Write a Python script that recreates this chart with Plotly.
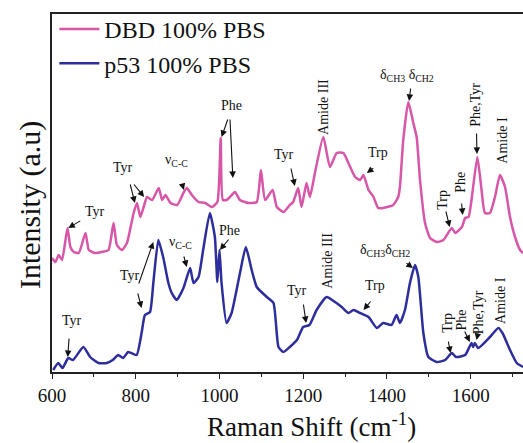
import plotly.graph_objects as go

# ---- data (Raman shift in cm^-1, intensity in arbitrary units) ----
dbd_shift = [600, 608, 616, 624, 637, 644, 652, 664, 680, 688, 703, 719, 735, 747, 755, 767, 779,
             795, 803, 811, 819, 827, 839, 855, 863, 871, 883, 899, 915, 922, 934, 950, 966, 982,
             995, 1003, 1008, 1017, 1025, 1037, 1049, 1069, 1089, 1099, 1109, 1127, 1137, 1153,
             1168, 1176, 1188, 1196, 1208, 1216, 1228, 1248, 1264, 1280, 1296, 1308, 1324, 1336,
             1344, 1356, 1368, 1379, 1391, 1415, 1427, 1431, 1439, 1451, 1463, 1471, 1479, 1491,
             1503, 1519, 1535, 1555, 1563, 1579, 1587, 1595, 1602, 1616, 1626, 1634, 1646, 1658,
             1670, 1682, 1694, 1706, 1718, 1725]
dbd_int = [114, 110, 117, 112, 144, 125, 120, 119, 139, 122, 119, 120, 122, 149, 127, 122, 129,
           159, 169, 155, 165, 175, 172, 184, 172, 177, 169, 167, 180, 184, 177, 170, 169, 165,
           170, 234, 172, 172, 175, 180, 172, 169, 170, 202, 172, 182, 165, 160,
           167, 170, 184, 165, 189, 175, 199, 235, 205, 219, 219, 209, 195, 192,
           197, 182, 175, 164, 164, 167, 175, 185, 232, 270, 249, 235, 192, 149,
           134, 130, 132, 144, 139, 145, 154, 155, 172, 215, 182, 159, 159, 175,
           197, 185, 155, 135, 122, 119]

p53_shift = [603, 615, 625, 639, 650, 675, 691, 711, 731, 745, 758, 770, 782, 802, 814, 822, 834,
             842, 854, 866, 878, 886, 898, 914, 930, 938, 950, 961, 977, 989, 995, 1000, 1005,
             1017, 1029, 1049, 1063, 1077, 1089, 1113, 1129, 1141, 1153, 1168, 1185, 1200, 1215,
             1232, 1256, 1276, 1292, 1308, 1320, 1336, 1356, 1376, 1391, 1411, 1423, 1431, 1443,
             1455, 1467, 1475, 1487, 1499, 1519, 1539, 1555, 1565, 1587, 1602, 1606, 1610, 1618,
             1646, 1666, 1676, 1694, 1710, 1725]
p53_int = [2, 9, 4, 14, 12, 25, 15, 9, 9, 12, 17, 14, 20, 17, 39, 57, 60,
           89, 132, 114, 89, 79, 72, 84, 104, 89, 95, 122, 159, 135, 90, 122, 89,
           49, 59, 99, 125, 102, 85, 75, 69, 25, 20, 25, 32, 45, 47,
           62, 75, 70, 65, 59, 62, 59, 55, 44, 49, 47, 57, 49, 62,
           89, 107, 95, 39, 15, 10, 12, 19, 15, 17, 29, 25, 29, 24,
           35, 44, 39, 22, 9, 5]

series_names = ["DBD 100% PBS", "p53 100% PBS"]
x_ticks = [600, 800, 1000, 1200, 1400, 1600]

# ---- peak labels: (text, x, y, rotated) ----
labels = [
    ("Tyr", 703, 161, False), ("Tyr", 770, 205, False), ("ν<sub>C-C</sub>", 898, 212, False),
    ("Phe", 1029, 267, False), ("Tyr", 1153, 218, False), ("Amide III", 1247, 265, True),
    ("Trp", 1379, 220, False), ("δ<sub>CH3</sub> δ<sub>CH2</sub>", 1448, 297, False),
    ("Trp", 1531, 172, True), ("Phe", 1574, 190, True), ("Phe,Tyr", 1610, 267, True),
    ("Amide I", 1674, 232, True),
    ("Tyr", 647, 52, False), ("Tyr", 786, 97, False), ("ν<sub>C-C</sub>", 906, 130, False),
    ("Phe", 1025, 142, False), ("Tyr", 1184, 82, False), ("Amide III", 1256, 111, True),
    ("Trp", 1371, 87, False), ("δ<sub>CH3</sub>δ<sub>CH2</sub>", 1395, 122, False),
    ("Trp", 1543, 49, True), ("Phe", 1578, 52, True), ("Phe,Tyr", 1618, 60, True),
    ("Amide I", 1670, 72, True),
]
# ---- arrows: (tail x, tail y, head x, head y) ----
arrows = [
    (671, 152, 639, 144), (786, 189, 798, 169), (793, 189, 820, 175), (910, 189, 915, 182),
    (1021, 254, 1005, 235), (1025, 254, 1032, 194), (1170, 205, 1180, 186),
    (1371, 205, 1352, 199), (1457, 285, 1453, 271), (1540, 162, 1550, 145),
    (1578, 170, 1581, 157), (1614, 240, 1615, 218),
    (641, 35, 637.5, 15), (806, 87, 842, 130), (804, 80, 814, 64), (914, 117, 922, 105),
    (1025, 134, 1001, 122), (1200, 69, 1207, 49), (1364, 72, 1344, 62), (1443, 110, 1462, 104),
    (1546, 32, 1552, 19), (1584, 42, 1598, 30), (1618, 40, 1614, 32),
]

PINK = "#d856a8"
BLUE = "#2d2e9c"
FONT = "Liberation Serif"
INK = "#111111"

fig = go.Figure()
fig.add_trace(go.Scatter(x=dbd_shift, y=dbd_int, mode="lines", name=series_names[0],
                         line=dict(color=PINK, width=2.5, shape="spline", smoothing=0.5)))
fig.add_trace(go.Scatter(x=p53_shift, y=p53_int, mode="lines", name=series_names[1],
                         line=dict(color=BLUE, width=2.5, shape="spline", smoothing=0.5)))

ann = []
for t, x, y, rot in labels:
    ann.append(dict(x=x, y=y, xref="x", yref="y", text=t, showarrow=False,
                    textangle=-90 if rot else 0,
                    font=dict(family=FONT, size=14, color=INK)))
for tx, ty, hx, hy in arrows:
    ann.append(dict(x=hx, y=hy, ax=tx, ay=ty, xref="x", yref="y", axref="x", ayref="y",
                    text="", showarrow=True, arrowhead=2, arrowsize=1.2, arrowwidth=1.1,
                    arrowcolor=INK, standoff=0, startstandoff=0))
# axis titles
ann.append(dict(x=0.552, y=-0.148, xref="paper", yref="paper", xanchor="center", yanchor="middle",
                text="Raman Shift (cm<sup>-1</sup>)", showarrow=False,
                font=dict(family=FONT, size=27, color=INK)))
ann.append(dict(x=-0.047, y=0.466, xref="paper", yref="paper", xanchor="center", yanchor="middle",
                text="Intensity (a.u)", textangle=-90, showarrow=False,
                font=dict(family=FONT, size=30, color=INK)))

fig.update_layout(
    width=523, height=443,
    margin=dict(l=52, r=0, t=14, b=71),
    paper_bgcolor="white", plot_bgcolor="white",
    font=dict(family=FONT, color=INK),
    showlegend=True,
    legend=dict(x=0.005, y=1.02, xanchor="left", yanchor="top",
                font=dict(family=FONT, size=24, color=INK),
                bgcolor="rgba(0,0,0,0)", itemwidth=40, tracegroupgap=0),
    annotations=ann,
    xaxis=dict(range=[600, 1725], tickvals=x_ticks, ticktext=[str(v) for v in x_ticks],
               showline=True, linecolor="#222222", linewidth=1.5, mirror=True,
               ticks="outside", ticklen=5, tickwidth=1.2, tickcolor="#222222",
               minor=dict(dtick=100, ticks="outside", ticklen=3, tickcolor="#222222"),
               showgrid=False, zeroline=False,
               tickfont=dict(family=FONT, size=19, color=INK)),
    yaxis=dict(range=[0, 358], showticklabels=False, ticks="",
               showline=True, linecolor="#222222", linewidth=1.5, mirror=False,
               showgrid=False, zeroline=False),
)

fig.write_html("out.html")
